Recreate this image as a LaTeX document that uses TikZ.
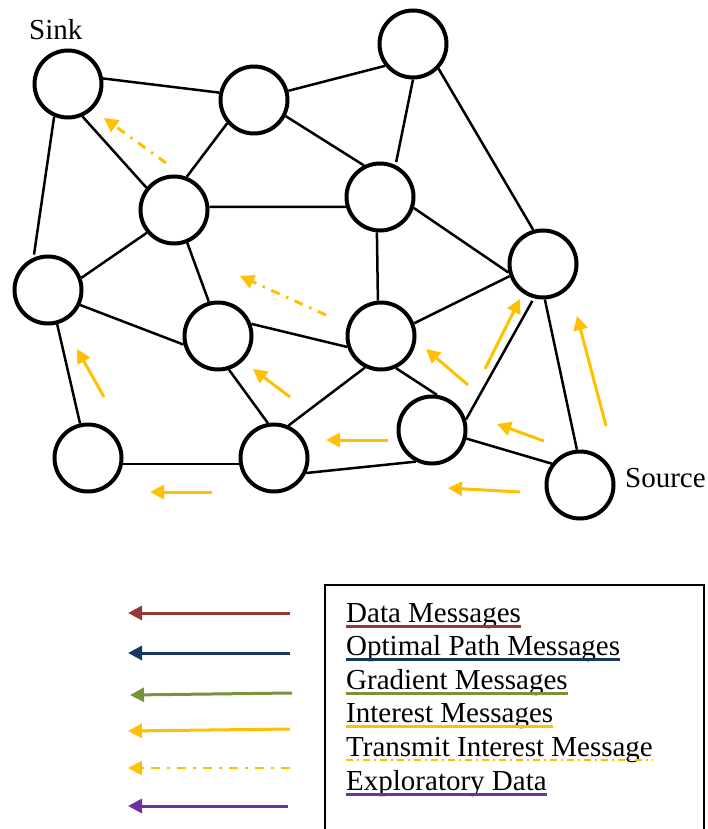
\documentclass[tikz,border=0pt]{standalone}
\usepackage{fontspec}
\setmainfont{Liberation Serif}
\usetikzlibrary{arrows.meta}
\definecolor{cdata}{HTML}{953735}
\definecolor{copt}{HTML}{17375E}
\definecolor{cgrad}{HTML}{77933C}
\definecolor{cint}{HTML}{FFC000}
\definecolor{cexp}{HTML}{7030A0}
\begin{document}
\begin{tikzpicture}[x=1pt,y=-1pt,
  sn/.style={circle,draw,line width=4pt,minimum size=67pt,inner sep=0pt},
  ln/.style={line width=2.5pt},
  tipa/.style={-{Triangle[length=14pt,width=14pt]}},
  ia/.style={draw=cint,line width=3pt,tipa},
  ta/.style={ia,dash pattern=on 9pt off 7pt on 2.5pt off 7pt},
  la/.style={line width=3pt,tipa},
  lt/.style={anchor=base west,inner sep=0pt,font=\fontsize{29}{34}\selectfont},
  ul/.style={line width=3pt}
]
\useasboundingbox (0,0) rectangle (708,829);

% sensor nodes
\node[sn] (n1) at (68,84) {};
\node[sn] (n2) at (254,100) {};
\node[sn] (n3) at (413,44) {};
\node[sn] (n4) at (174,210) {};
\node[sn] (n5) at (380,197) {};
\node[sn] (n6) at (48,290) {};
\node[sn] (n7) at (543,264) {};
\node[sn] (n8) at (218,336) {};
\node[sn] (n9) at (381,336) {};
\node[sn] (n10) at (88,458) {};
\node[sn] (n11) at (274,458) {};
\node[sn] (n12) at (432,430) {};
\node[sn] (n13) at (580,485) {};

\node[lt] (sink) at (29,40) {Sink};
\node[lt] (source) at (625,487) {Source};

% links
\draw[ln] (n1.9) -- (n2.168);
\draw[ln] (n2.15) -- (n3.218);
\draw[ln,shorten >=3pt] (n1.-113) -- (n6.114);
\draw[ln] (n1.-66) -- (n4.141);
\draw[ln] (n4.69) -- (n2.221);
\draw[ln] (n2.-27) -- (n5.117);
\draw[ln,shorten >=3pt] (n3.-90) -- (n5.64);
\draw[ln] (n3.-44) -- (n7.106);
\draw[ln] (n4.5) -- (n5.196);
\draw[ln] (n4.220) -- (n6.20);
\draw[ln] (n4.-68) -- (n8.105);
\draw[ln] (n6.-25) -- (n8.194);
\draw[ln] (n8.20) -- (n9.198);
\draw[ln] (n5.-95) -- (n9.95);
\draw[ln] (n5.-18) -- (n7.194);
\draw[ln] (n9.21) -- (n7.200);
\draw[ln] (n6.-75) -- (n10.103);
\draw[ln] (n10.-10) -- (n11.190);
\draw[ln] (n8.-72) -- (n11.100);
\draw[ln] (n9.-117) -- (n11.66);
\draw[ln] (n11.-25) -- (n12.243);
\draw[ln] (n9.-65) -- (n12.82);
\draw[ln,shorten >=3pt] (n12.17) -- (n7.255);
\draw[ln] (n12.-14) -- (n13.143);
\draw[ln] (n7.-87) -- (n13.95);

% interest message arrows
\coordinate (a1s) at (104,397); \coordinate (a1e) at (77,349);
\coordinate (a2s) at (290,397); \coordinate (a2e) at (253,369);
\coordinate (a3s) at (212,492); \coordinate (a3e) at (150,492);
\coordinate (a4s) at (388,440); \coordinate (a4e) at (326,440);
\coordinate (a5s) at (468,385); \coordinate (a5e) at (426,349);
\coordinate (a6s) at (485,369); \coordinate (a6e) at (520,299);
\coordinate (a7s) at (606,426); \coordinate (a7e) at (577,316);
\coordinate (a8s) at (544,441); \coordinate (a8e) at (497,424);
\coordinate (a9s) at (520,492); \coordinate (a9e) at (448,488);
\draw[ia] (a1s) -- (a1e);
\draw[ia] (a2s) -- (a2e);
\draw[ia] (a3s) -- (a3e);
\draw[ia] (a4s) -- (a4e);
\draw[ia] (a5s) -- (a5e);
\draw[ia] (a6s) -- (a6e);
\draw[ia] (a7s) -- (a7e);
\draw[ia] (a8s) -- (a8e);
\draw[ia] (a9s) -- (a9e);

% transmit interest arrows
\coordinate (d1s) at (166,163); \coordinate (d1e) at (104,118);
\coordinate (d2s) at (326,315); \coordinate (d2e) at (240,276);
\draw[ta] (d1s) -- (d1e);
\draw[ta] (d2s) -- (d2e);

% legend
\draw[line width=1.5pt] (325,829) -- (325,585) -- (704,585) -- (704,829);

\coordinate (l1s) at (290,613); \coordinate (l1e) at (128,613);
\coordinate (l2s) at (290,653); \coordinate (l2e) at (128,653);
\coordinate (l3s) at (292,693); \coordinate (l3e) at (130,695);
\coordinate (l4s) at (290,729); \coordinate (l4e) at (128,731);
\coordinate (l5s) at (290,768); \coordinate (l5e) at (128,768);
\coordinate (l6s) at (288,806); \coordinate (l6e) at (128,806);
\draw[la,cdata] (l1s) -- (l1e);
\draw[la,copt] (l2s) -- (l2e);
\draw[la,cgrad] (l3s) -- (l3e);
\draw[la,cint] (l4s) -- (l4e);
\draw[la,cint,line width=2pt,dash pattern=on 9pt off 7pt on 3pt off 7pt] (l5s) -- (l5e);
\draw[la,cexp] (l6s) -- (l6e);

\node[lt] (t1) at (346,622) {Data Messages};
\node[lt] (t2) at (346,655.5) {Optimal Path Messages};
\node[lt] (t3) at (346,689) {Gradient Messages};
\node[lt] (t4) at (346,722.5) {Interest Messages};
\node[lt] (t5) at (346,756) {Transmit Interest Message};
\node[lt] (t6) at (346,790) {Exploratory Data};

\draw[ul,cdata] ([yshift=-4pt]t1.base west) -- ([yshift=-4pt]t1.base east);
\draw[ul,copt] ([yshift=-4pt]t2.base west) -- ([yshift=-4pt]t2.base east);
\draw[ul,cgrad] ([yshift=-4pt]t3.base west) -- ([yshift=-4pt]t3.base east);
\draw[ul,cint] ([yshift=-4pt]t4.base west) -- ([yshift=-4pt]t4.base east);
\draw[cint,line width=1.5pt,dash pattern=on 7pt off 4pt on 2pt off 4pt] ([yshift=-4pt]t5.base west) -- ([yshift=-4pt]t5.base east);
\draw[ul,cexp] ([yshift=-4pt]t6.base west) -- ([yshift=-4pt]t6.base east);
\end{tikzpicture}
\end{document}
